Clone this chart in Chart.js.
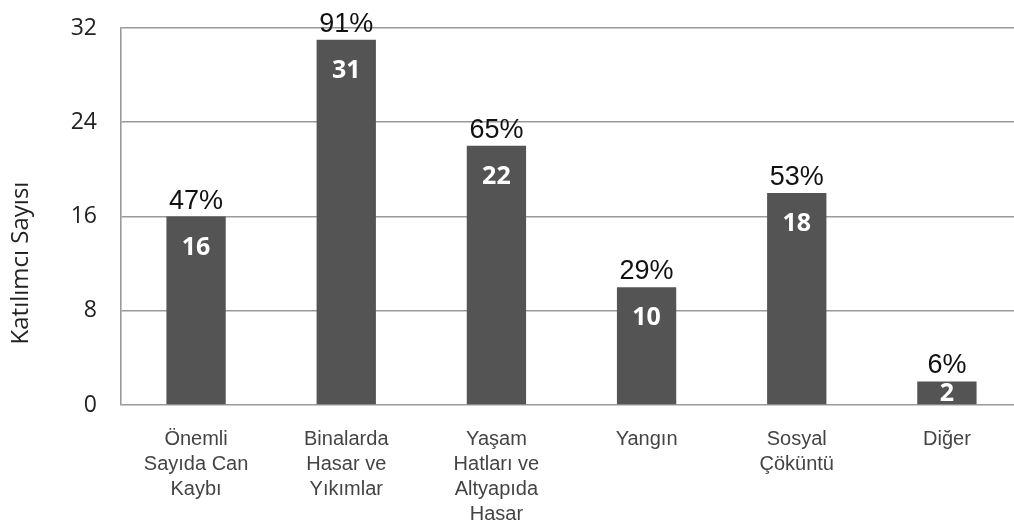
<!DOCTYPE html>
<html>
<head>
<meta charset="utf-8">
<script src="https://cdn.jsdelivr.net/npm/chart.js@4.4.1/dist/chart.umd.min.js"></script>
<style>
    html, body { margin: 0; padding: 0; background: #fff; overflow: hidden; }
    #wrap { width: 1022px; height: 523px; }
</style>
</head>
<body>
<div id="wrap"><canvas id="barChart" width="1022" height="523"></canvas></div>
<script>
// categories (multi-line labels) and values
const categories = [
    ['Önemli', 'Sayıda Can', 'Kaybı'],
    ['Binalarda', 'Hasar ve', 'Yıkımlar'],
    ['Yaşam', 'Hatları ve', 'Altyapıda', 'Hasar'],
    ['Yangın'],
    ['Sosyal', 'Çöküntü'],
    ['Diğer']
];
const participantCounts = [16, 31, 22, 10, 18, 2];
const percentLabels = ['47%', '91%', '65%', '29%', '53%', '6%'];
const yTicks = [0, 8, 16, 24, 32];
const yTitle = 'Katılımcı Sayısı';

// draws the count inside each bar and the percent above it
const barLabels = {
    id: 'barLabels',
    afterDatasetsDraw(chart) {
        const ctx = chart.ctx;
        const meta = chart.getDatasetMeta(0);
        ctx.save();
        ctx.textAlign = 'center';
        meta.data.forEach((bar, i) => {
            const top = bar.y, base = bar.base;
            // count in white bold
            ctx.fillStyle = '#ffffff';
            ctx.font = 'bold 25px "Open Sans"';
            ctx.textBaseline = 'middle';
            const vy = Math.min(top + 31, (top + base) / 2 + 1);
            ctx.fillText(String(participantCounts[i]), bar.x, vy);
            // percent above bar
            ctx.fillStyle = '#111111';
            ctx.font = '27px "Liberation Sans"';
            ctx.textBaseline = 'alphabetic';
            ctx.fillText(percentLabels[i], bar.x, top - 8);
        });
        ctx.restore();
    }
};

// y axis title, sits a bit lower than the middle of the plot in the original
const yAxisTitle = {
    id: 'yAxisTitle',
    afterDraw(chart) {
        const ctx = chart.ctx;
        ctx.save();
        ctx.translate(21, 263);
        ctx.rotate(-Math.PI / 2);
        ctx.textAlign = 'center';
        ctx.textBaseline = 'middle';
        ctx.fillStyle = '#222222';
        ctx.font = '24px "Open Sans"';
        ctx.fillText(yTitle, 0, 0);
        ctx.restore();
    }
};

const ctx = document.getElementById('barChart').getContext('2d');
new Chart(ctx, {
    type: 'bar',
    data: {
        labels: categories,
        datasets: [{
            data: participantCounts,
            backgroundColor: '#545454',
            borderWidth: 0,
            barPercentage: 0.395,
            categoryPercentage: 1.0
        }]
    },
    options: {
        responsive: false,
        animation: false,
        layout: { padding: { top: 28, left: 8, right: 0, bottom: 0 } },
        plugins: {
            legend: { display: false },
            tooltip: { enabled: false }
        },
        scales: {
            x: {
                afterFit(scale) { scale.height = 118; },
                grid: { display: false, drawTicks: false },
                border: { display: false },
                ticks: {
                    color: '#444444',
                    font: { family: '"Liberation Sans"', size: 20, lineHeight: 1.25 },
                    padding: 22,
                    maxRotation: 0,
                    autoSkip: false
                }
            },
            y: {
                min: yTicks[0],
                max: yTicks[yTicks.length - 1],
                afterFit(scale) {
                    scale.width = 113;
                    scale.paddingTop = 0;
                    scale.paddingBottom = 0;
                },
                afterBuildTicks(scale) { scale.ticks = yTicks.map(v => ({ value: v })); },
                grid: { color: '#9a9a9a', lineWidth: 1.6, drawTicks: false },
                border: { display: true, color: '#9a9a9a', width: 1.6 },
                ticks: {
                    color: '#222222',
                    font: { family: '"Open Sans"', size: 23 },
                    padding: 24
                }
            }
        }
    },
    plugins: [barLabels, yAxisTitle]
});
</script>
</body>
</html>
